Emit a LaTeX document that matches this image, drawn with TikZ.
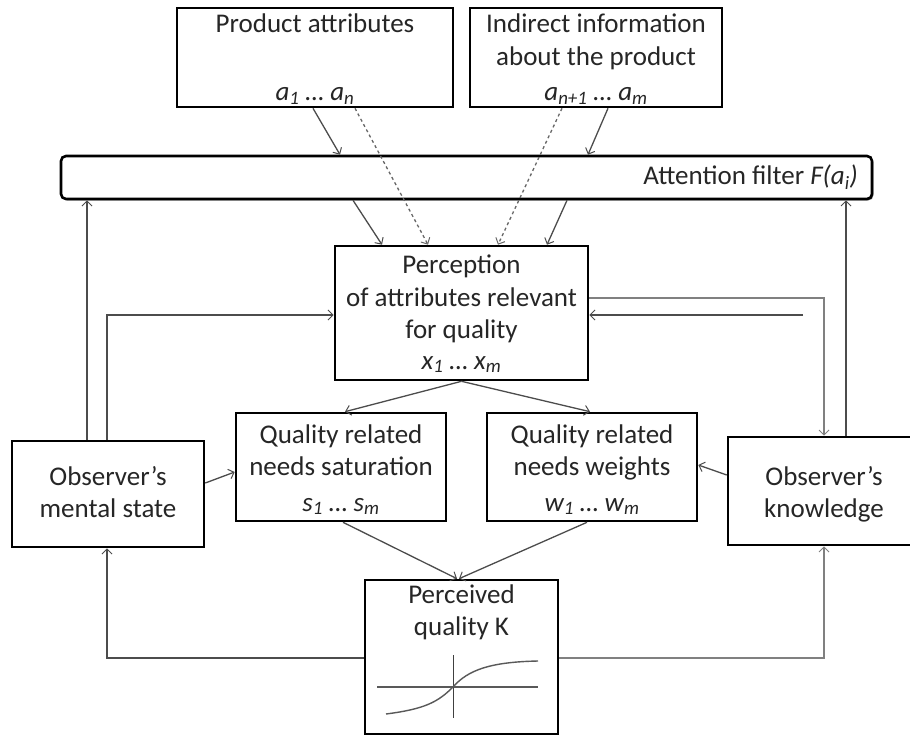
\documentclass[tikz,border=0pt]{standalone}
\usepackage{fontspec}
\setmainfont{Carlito}
\usetikzlibrary{arrows.meta,shadows}
\begin{document}
\begin{tikzpicture}[x=1pt,y=-1pt,
  box/.style={draw=black,line width=2.6pt,fill=white,inner sep=0pt,
    drop shadow={shadow xshift=1.4pt,shadow yshift=-1.4pt,fill=black!60,opacity=1}},
  txt/.style={anchor=base,inner sep=0pt,text=black!85,font=\fontsize{27}{32}\selectfont},
  conn/.style={draw=black!70,line width=1.3pt},
  arr/.style={conn,-{Straight Barb[length=5pt,width=10pt,line width=1pt]}},
  darr/.style={arr,draw=black!60,dash pattern=on 3pt off 3pt},
  garr/.style={arr,draw=black!50,line width=1.7pt}
]
\useasboundingbox (0,0) rectangle (910,735);
\clip (0,0) rectangle (910,735);

% boxes
\node[box,minimum width=276pt,minimum height=99pt] (prod) at (315,57.5) {};
\node[box,minimum width=252pt,minimum height=99pt] (ind) at (596,57.5) {};
\node[box,rounded corners=5pt,minimum width=811pt,minimum height=43pt] (filter) at (466.5,177.5) {};
\node[box,minimum width=253pt,minimum height=134pt] (perc) at (461.5,313) {};
\node[box,minimum width=210pt,minimum height=108pt] (sat) at (341,467) {};
\node[box,minimum width=210pt,minimum height=108pt] (wts) at (592,467) {};
\node[box,minimum width=192pt,minimum height=106pt] (mental) at (108,494) {};
\node[box,minimum width=192pt,minimum height=108pt] (know) at (824,491) {};
\node[box,minimum width=193pt,minimum height=154pt] (K) at (461.5,657) {};

% texts
\node[txt] (prodA) at (315,33) {Product attributes};
\node[txt] (prodB) at (315,101) {\itshape a\textsubscript{1} … a\textsubscript{n}};
\node[txt] (indA) at (596,33) {Indirect information};
\node[txt] (indB) at (596,66) {about the product};
\node[txt] (indC) at (596,101) {\itshape a\textsubscript{n+1} … a\textsubscript{m}};
\node[txt,anchor=base east] (filtA) at (858,185) {Attention filter \textit{F(a\textsubscript{i})}};
\node[txt] (percA) at (461.5,273) {Perception};
\node[txt] (percB) at (461.5,306) {of attributes relevant};
\node[txt] (percC) at (461.5,338) {for quality};
\node[txt] (percD) at (461.5,369) {\itshape x\textsubscript{1} … x\textsubscript{m}};
\node[txt] (satA) at (341,443) {Quality related};
\node[txt] (satB) at (341,475) {needs saturation};
\node[txt] (satC) at (341,511) {\itshape s\textsubscript{1} … s\textsubscript{m}};
\node[txt] (wtsA) at (592,443) {Quality related};
\node[txt] (wtsB) at (592,475) {needs weights};
\node[txt] (wtsC) at (592,511) {\itshape w\textsubscript{1} … w\textsubscript{m}};
\node[txt] (mentA) at (108,485) {Observer’s};
\node[txt] (mentB) at (108,517) {mental state};
\node[txt] (knowA) at (824,485) {Observer’s};
\node[txt] (knowB) at (824,517) {knowledge};
\node[txt] (KA) at (461.5,603) {Perceived};
\node[txt] (KB) at (461.5,635) {quality K};

% sigmoid sketch in the perceived quality box
\draw[black!65,line width=2.2pt] (377,687) -- (538,687);
\draw[black!75,line width=0.8pt] (453,655) -- (453,718);
\draw[black!65,line width=1.4pt] (386,714) .. controls (425,709) and (438,702) .. (453,687)
  .. controls (468,670) and (490,662) .. (538,661);

% attributes through the attention filter
\draw[arr] ([xshift=-2pt]prod.south) -- ([xshift=-126.5pt]filter.north);
\draw[darr] ([xshift=40pt]prod.south) -- ([xshift=-33.5pt]perc.north);
\draw[arr] ([xshift=-113.5pt]filter.south) -- ([xshift=-79.5pt]perc.north);
\draw[arr] ([xshift=12pt]ind.south) -- ([xshift=121.5pt]filter.north);
\draw[darr] ([xshift=-34pt]ind.south) -- ([xshift=36.5pt]perc.north);
\draw[arr] ([xshift=100.5pt]filter.south) -- ([xshift=85.5pt]perc.north);

% observer's mental state
\coordinate (mL) at ([xshift=-21pt]mental.north);
\coordinate (mR) at ([xshift=-1pt]mental.north);
\coordinate (mB) at ([xshift=-1pt]mental.south);
\draw[arr] (mL) -- (mL |- filter.south);
\draw[arr] (mR) |- ([yshift=-2pt]perc.west);
\draw[arr] ([yshift=11pt]mental.east) -- ([yshift=-5pt]sat.west);

% perception to needs
\draw[arr] (perc.south) -- ([xshift=4pt]sat.north);
\draw[arr] (perc.south) -- ([xshift=-2pt]wts.north);

% observer's knowledge
\coordinate (kR) at ([xshift=22pt]know.north);
\coordinate (kfree) at (803,315);
\draw[garr] ([yshift=15pt]perc.east) -| (know.north);
\draw[arr] (kfree) -- ([yshift=-2pt]perc.east);
\draw[arr] (kR) -- (kR |- filter.south);
\draw[arr] ([yshift=16pt]know.west) -- ([yshift=2pt]wts.east);

% needs to perceived quality
\draw[arr] ([xshift=2pt]sat.south) -- ([xshift=-4.5pt]K.north);
\draw[arr] ([xshift=-5pt]wts.south) -- ([xshift=-2.5pt]K.north);

% feedback from perceived quality
\draw[arr] ([yshift=-1pt]K.west) -| (mB);
\draw[garr] ([yshift=-1pt]K.east) -| (know.south);
\end{tikzpicture}
\end{document}
